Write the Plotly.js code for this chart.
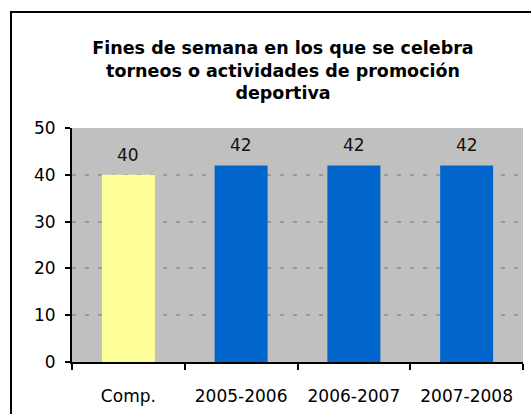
<!DOCTYPE html>
<html>
<head>
<meta charset="utf-8">
<script src="https://cdn.plot.ly/plotly-3.0.1.min.js"></script>
<style>
  body { margin: 0; background: #fff; overflow: hidden; }
  #chart { width: 531px; height: 414px; }
  #frame { position: absolute; left: 10px; top: 11px; width: 600px; height: 500px;
           border: 2px solid #000; pointer-events: none; }
</style>
</head>
<body>
<div id="chart"></div>
<div id="frame"></div>
<script>
const categories = ["Comp.", "2005-2006", "2006-2007", "2007-2008"];
const values = [40, 42, 42, 42];
const bar_colors = ["#FFFF99", "#0066CC", "#0066CC", "#0066CC"];
const title_text = "Fines de semana en los que se celebra<br>torneos o actividades de promoción<br>deportiva";

const FONT = "DejaVu Sans, Verdana, sans-serif";

const trace = {
    type: "bar",
    x: categories,
    y: values,
    marker: { color: bar_colors, line: { width: 0 } },
    hoverinfo: "none"
};

const labels = categories.map(function (c, i) {
    return { x: c, y: values[i], text: String(values[i]),
	     showarrow: false, yanchor: "middle", yshift: 20,
	     font: { family: FONT, size: 17, color: "#111" } };
});

const layout = {
    width: 531,
    height: 414,
    margin: { l: 72, r: 8, t: 128, b: 52 },
    paper_bgcolor: "#ffffff",
    plot_bgcolor: "#C0C0C0",
    bargap: 0.53,
    showlegend: false,
    title: { text: title_text,
	     font: { family: FONT, size: 17.5, weight: "bold", color: "#000" },
	     xref: "container", x: 0.533, xanchor: "center",
	     yref: "container", y: 0.87, yanchor: "top" },
    xaxis: { type: "category",
	     showline: true, linecolor: "#000", linewidth: 2,
	     ticks: "outside", tickson: "boundaries", ticklen: 6, tickwidth: 2, tickcolor: "#000",
	     ticklabelstandoff: 18,
	     tickfont: { family: FONT, size: 17, color: "#000" },
	     showgrid: false, zeroline: false, fixedrange: true },
    yaxis: { range: [0, 50], dtick: 10, tick0: 0,
	     showline: true, linecolor: "#000", linewidth: 2,
	     ticks: "outside", ticklen: 5, tickwidth: 2, tickcolor: "#000",
	     ticklabelstandoff: 6,
	     tickfont: { family: FONT, size: 17, color: "#000" },
	     showgrid: true, gridcolor: "#999999", gridwidth: 2, griddash: "4px,9px",
	     zeroline: false, fixedrange: true },
    annotations: labels
};

Plotly.newPlot("chart", [trace], layout, { staticPlot: true, displayModeBar: false });
</script>
</body>
</html>
